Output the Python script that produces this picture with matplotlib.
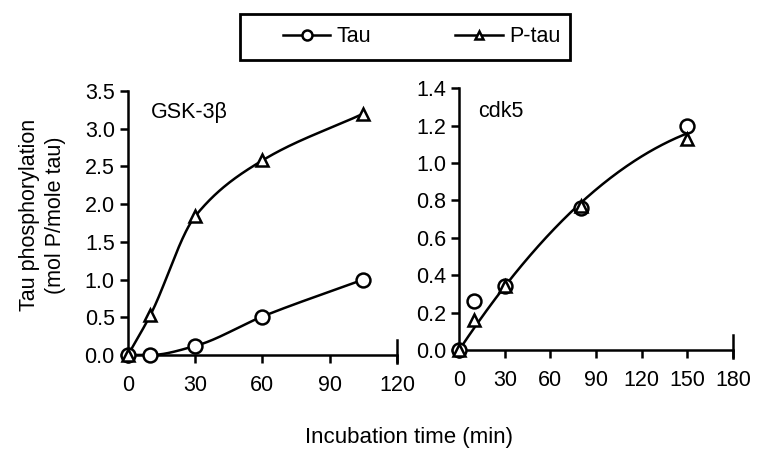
import numpy as np
import matplotlib
matplotlib.use("Agg")
import matplotlib.pyplot as plt
from matplotlib.patches import Rectangle
from matplotlib.transforms import blended_transform_factory

plt.rcParams['font.family'] = ['Liberation Sans', 'DejaVu Sans']

# GSK-3beta panel
gsk_time = [0, 10, 30, 60, 105]
gsk_tau = [0.0, 0.0, 0.12, 0.51, 1.0]
gsk_ptau = [0.0, 0.53, 1.84, 2.58, 3.2]

# cdk5 panel
cdk_time = [0, 10, 30, 80, 150]
cdk_tau = [0.0, 0.26, 0.34, 0.76, 1.2]
cdk_ptau = [0.0, 0.16, 0.34, 0.77, 1.13]

left_xticks = [0, 30, 60, 90, 120]
left_yticks = [0.0, 0.5, 1.0, 1.5, 2.0, 2.5, 3.0, 3.5]
right_xticks = [0, 30, 60, 90, 120, 150, 180]
right_yticks = [0.0, 0.2, 0.4, 0.6, 0.8, 1.0, 1.2, 1.4]

FS = 15.5


def pchip(x, y, n=200):
    x = np.asarray(x, float); y = np.asarray(y, float)
    h = np.diff(x); d = np.diff(y) / h
    m = np.zeros_like(y)
    for k in range(1, len(x) - 1):
        if d[k - 1] * d[k] <= 0:
            m[k] = 0
        else:
            w1 = 2 * h[k] + h[k - 1]; w2 = h[k] + 2 * h[k - 1]
            m[k] = (w1 + w2) / (w1 / d[k - 1] + w2 / d[k])
    m[0] = d[0]; m[-1] = d[-1]
    xs = np.linspace(x[0], x[-1], n)
    idx = np.clip(np.searchsorted(x, xs) - 1, 0, len(x) - 2)
    t = (xs - x[idx]) / h[idx]
    h00 = 2 * t**3 - 3 * t**2 + 1; h10 = t**3 - 2 * t**2 + t
    h01 = -2 * t**3 + 3 * t**2; h11 = t**3 - t**2
    ys = h00 * y[idx] + h10 * h[idx] * m[idx] + h01 * y[idx + 1] + h11 * h[idx] * m[idx + 1]
    return xs, ys


fig = plt.figure(figsize=(7.64, 4.62), dpi=100)
ax1 = fig.add_axes([0.1675, 0.2316, 0.352, 0.5714])
ax2 = fig.add_axes([0.601, 0.2424, 0.3584, 0.5665])

mk = dict(markerfacecolor='white', markeredgecolor='black', markeredgewidth=1.8, linestyle='none', zorder=3, clip_on=False)
lw = 1.8

# left
xs, ys = pchip(gsk_time, gsk_tau)
ax1.plot(xs, ys, color='black', lw=lw)
xs, ys = pchip(gsk_time, gsk_ptau)
ax1.plot(xs, ys, color='black', lw=lw)
ax1.plot(gsk_time, gsk_tau, marker='o', markersize=10, **mk)
ax1.plot(gsk_time, gsk_ptau, marker='^', markersize=8, **mk)
ax1.set_xlim(0, 120); ax1.set_ylim(0, 3.5)
ax1.set_xticks(left_xticks); ax1.set_yticks(left_yticks)
ax1.set_yticklabels([f"{v:.1f}" for v in left_yticks])
ax1.text(0.087, 0.919, 'GSK-3β', transform=ax1.transAxes, fontsize=FS, va='center')

# right: single fitted curve through both series
tt = np.array(cdk_time + cdk_time, float)
yy = np.array(cdk_tau + cdk_ptau, float)
A = np.vstack([tt, tt**2]).T
coef, *_ = np.linalg.lstsq(A, yy, rcond=None)
xf = np.linspace(0, cdk_time[-1], 200)
ax2.plot(xf, coef[0] * xf + coef[1] * xf**2, color='black', lw=lw)
ax2.plot(cdk_time, cdk_tau, marker='o', markersize=10, **mk)
ax2.plot(cdk_time, cdk_ptau, marker='^', markersize=8, **mk)
ax2.set_xlim(0, 180); ax2.set_ylim(0, 1.4)
ax2.set_xticks(right_xticks); ax2.set_yticks(right_yticks)
ax2.set_yticklabels([f"{v:.1f}" for v in right_yticks])
ax2.text(0.07, 0.91, 'cdk5', transform=ax2.transAxes, fontsize=FS, va='center')

for ax in (ax1, ax2):
    for s in ('top', 'right'):
        ax.spines[s].set_visible(False)
    for s in ('left', 'bottom'):
        ax.spines[s].set_linewidth(1.8)
    ax.tick_params(axis='x', direction='out', length=6, width=1.8, labelsize=FS, pad=8.5)
    ax.tick_params(axis='y', direction='out', length=6, width=1.8, labelsize=FS, pad=3.5)
    # end mark crossing the axis at the right end
    tr = blended_transform_factory(ax.transAxes, ax.transAxes)
    ax.plot([1, 1], [-0.03, 0.058], transform=tr, color='black', lw=1.8, clip_on=False)

fig.text(0.0556, 0.535, 'Tau phosphorylation\n(mol P/mole tau)', rotation=90,
         ha='center', va='center', fontsize=FS, linespacing=1.3)
fig.text(0.535, 0.054, 'Incubation time (min)', ha='center', va='center', fontsize=16)

h1, = ax1.plot([], [], color='black', lw=lw, marker='o', markersize=10,
               markerfacecolor='white', markeredgecolor='black', markeredgewidth=1.8)
h2, = ax1.plot([], [], color='black', lw=lw, marker='^', markersize=8,
               markerfacecolor='white', markeredgecolor='black', markeredgewidth=1.8)
leg = fig.legend([h1, h2], ['Tau', 'P-tau'], loc='center left', bbox_to_anchor=(283 / 764, 0.92),
                 ncol=2, frameon=False, fontsize=FS, markerscale=0.72,
                 handlelength=2.2, columnspacing=3.9, borderpad=0, handletextpad=0.3,
                 borderaxespad=0)
fig.patches.append(Rectangle((240 / 764, 1 - 60 / 462), 330 / 764, 46 / 462,
                             transform=fig.transFigure, fill=False, edgecolor='black', lw=2.0))

fig.savefig('out.png', dpi=100)
